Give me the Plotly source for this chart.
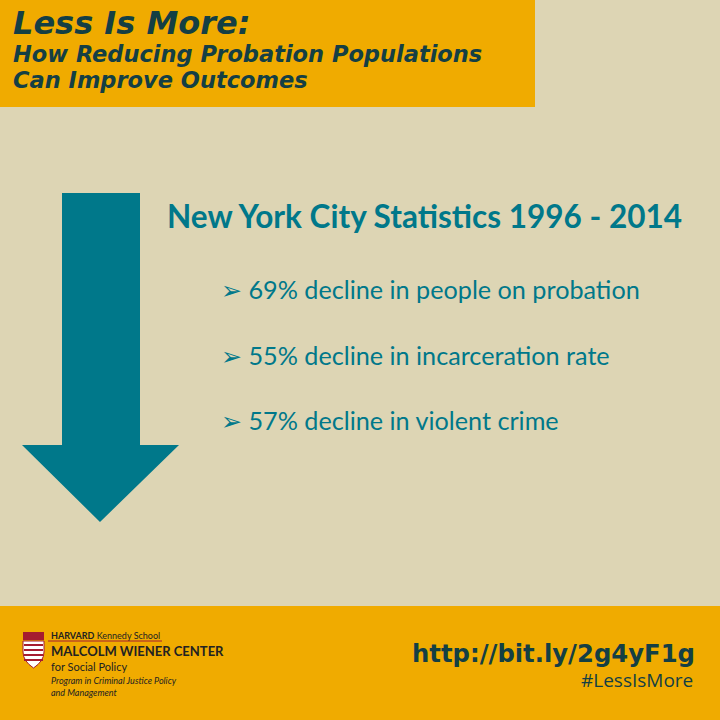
import plotly.graph_objects as go

# Texts
HEADER_TITLE = "Less Is More:"
HEADER_SUB = ["How Reducing Probation Populations", "Can Improve Outcomes"]
STATS_TITLE = "New York City Statistics 1996 - 2014"
BULLETS = ["69% decline in people on probation",
           "55% decline in incarceration rate",
           "57% decline in violent crime"]
URL = "http://bit.ly/2g4yF1g"
HASHTAG = "#LessIsMore"

BG = "#DDD5B4"
ORANGE = "#F0AB00"
TEAL = "#00788A"
DARK = "#143F44"

fig = go.Figure()

# arrow
fig.add_trace(go.Scatter(
    x=[62, 140, 140, 179, 100, 22, 62, 62],
    y=[193, 193, 445, 445, 522, 445, 445, 193],
    fill="toself", fillcolor=TEAL, line=dict(width=0), mode="lines",
    hoverinfo="skip", showlegend=False))

shapes = [
    dict(type="rect", x0=0, x1=535, y0=0, y1=107, fillcolor=ORANGE, line_width=0, layer="below"),
    dict(type="rect", x0=0, x1=720, y0=606, y1=720, fillcolor=ORANGE, line_width=0, layer="below"),
    # shield logo
    dict(type="path", path="M 23 641 L 44 641 L 44 652 Q 44 661 33.5 668 Q 23 661 23 652 Z",
         fillcolor="#FFFFFF", line=dict(color="#A51C30", width=1)),
    dict(type="rect", x0=23, x1=44, y0=632, y1=640, fillcolor="#A51C30", line_width=0),
    dict(type="line", x0=48, x1=162, y0=641, y1=641, line=dict(color="#A51C30", width=1)),
]
for yy in [645, 650, 655, 660]:
    shapes.append(dict(type="line", x0=24, x1=43, y0=yy, y1=yy, line=dict(color="#A51C30", width=2)))

ann = []
ann.append(dict(x=11, y=23, text="<b><i>" + HEADER_TITLE + "</i></b>", xanchor="left", yanchor="middle",
                showarrow=False, font=dict(family="DejaVu Sans", size=32, color=DARK)))
for i, s in enumerate(HEADER_SUB):
    ann.append(dict(x=11, y=54 + i * 26, text="<b><i>" + s + "</i></b>", xanchor="left", yanchor="middle",
                    showarrow=False, font=dict(family="DejaVu Sans", size=22.5, color=DARK)))
ann.append(dict(x=165, y=216, text="<b>" + STATS_TITLE + "</b>", xanchor="left", yanchor="middle",
                showarrow=False, font=dict(family="Lato", size=31.5, color=TEAL)))
for i, b in enumerate(BULLETS):
    ann.append(dict(x=219, y=289 + i * 65.5, text="➢ " + b, xanchor="left", yanchor="middle",
                    showarrow=False, font=dict(family="Lato", size=25.2, color=TEAL)))
ann.append(dict(x=697, y=653, text="<b>" + URL + "</b>", xanchor="right", yanchor="middle",
                showarrow=False, font=dict(family="DejaVu Sans", size=24.3, color=DARK)))
ann.append(dict(x=695, y=680, text=HASHTAG, xanchor="right", yanchor="middle",
                showarrow=False, font=dict(family="Open Sans", size=19, color=DARK)))
# logo text
ann += [
    dict(x=49, y=635, text="<b>HARVARD</b> Kennedy School", xanchor="left", yanchor="middle",
         showarrow=False, font=dict(family="Lato", size=9, color="#222")),
    dict(x=49, y=651, text="<b>MALCOLM WIENER CENTER</b>", xanchor="left", yanchor="middle",
         showarrow=False, font=dict(family="Lato", size=13, color="#222")),
    dict(x=49, y=666, text="for Social Policy", xanchor="left", yanchor="middle",
         showarrow=False, font=dict(family="Lato", size=11, color="#222")),
    dict(x=49, y=680, text="<i>Program in Criminal Justice Policy</i>", xanchor="left", yanchor="middle",
         showarrow=False, font=dict(family="Lato", size=9, color="#222")),
    dict(x=49, y=692, text="<i>and Management</i>", xanchor="left", yanchor="middle",
         showarrow=False, font=dict(family="Lato", size=9, color="#222")),
]

fig.update_layout(
    width=720, height=720, margin=dict(l=0, r=0, t=0, b=0),
    paper_bgcolor=BG, plot_bgcolor=BG,
    xaxis=dict(range=[0, 720], visible=False, fixedrange=True),
    yaxis=dict(range=[720, 0], visible=False, fixedrange=True),
    shapes=shapes, annotations=ann, showlegend=False,
)
fig.write_html("out.html", config={"displayModeBar": False},
               post_script="document.body.style.margin='0';document.body.style.background='%s';" % BG)
